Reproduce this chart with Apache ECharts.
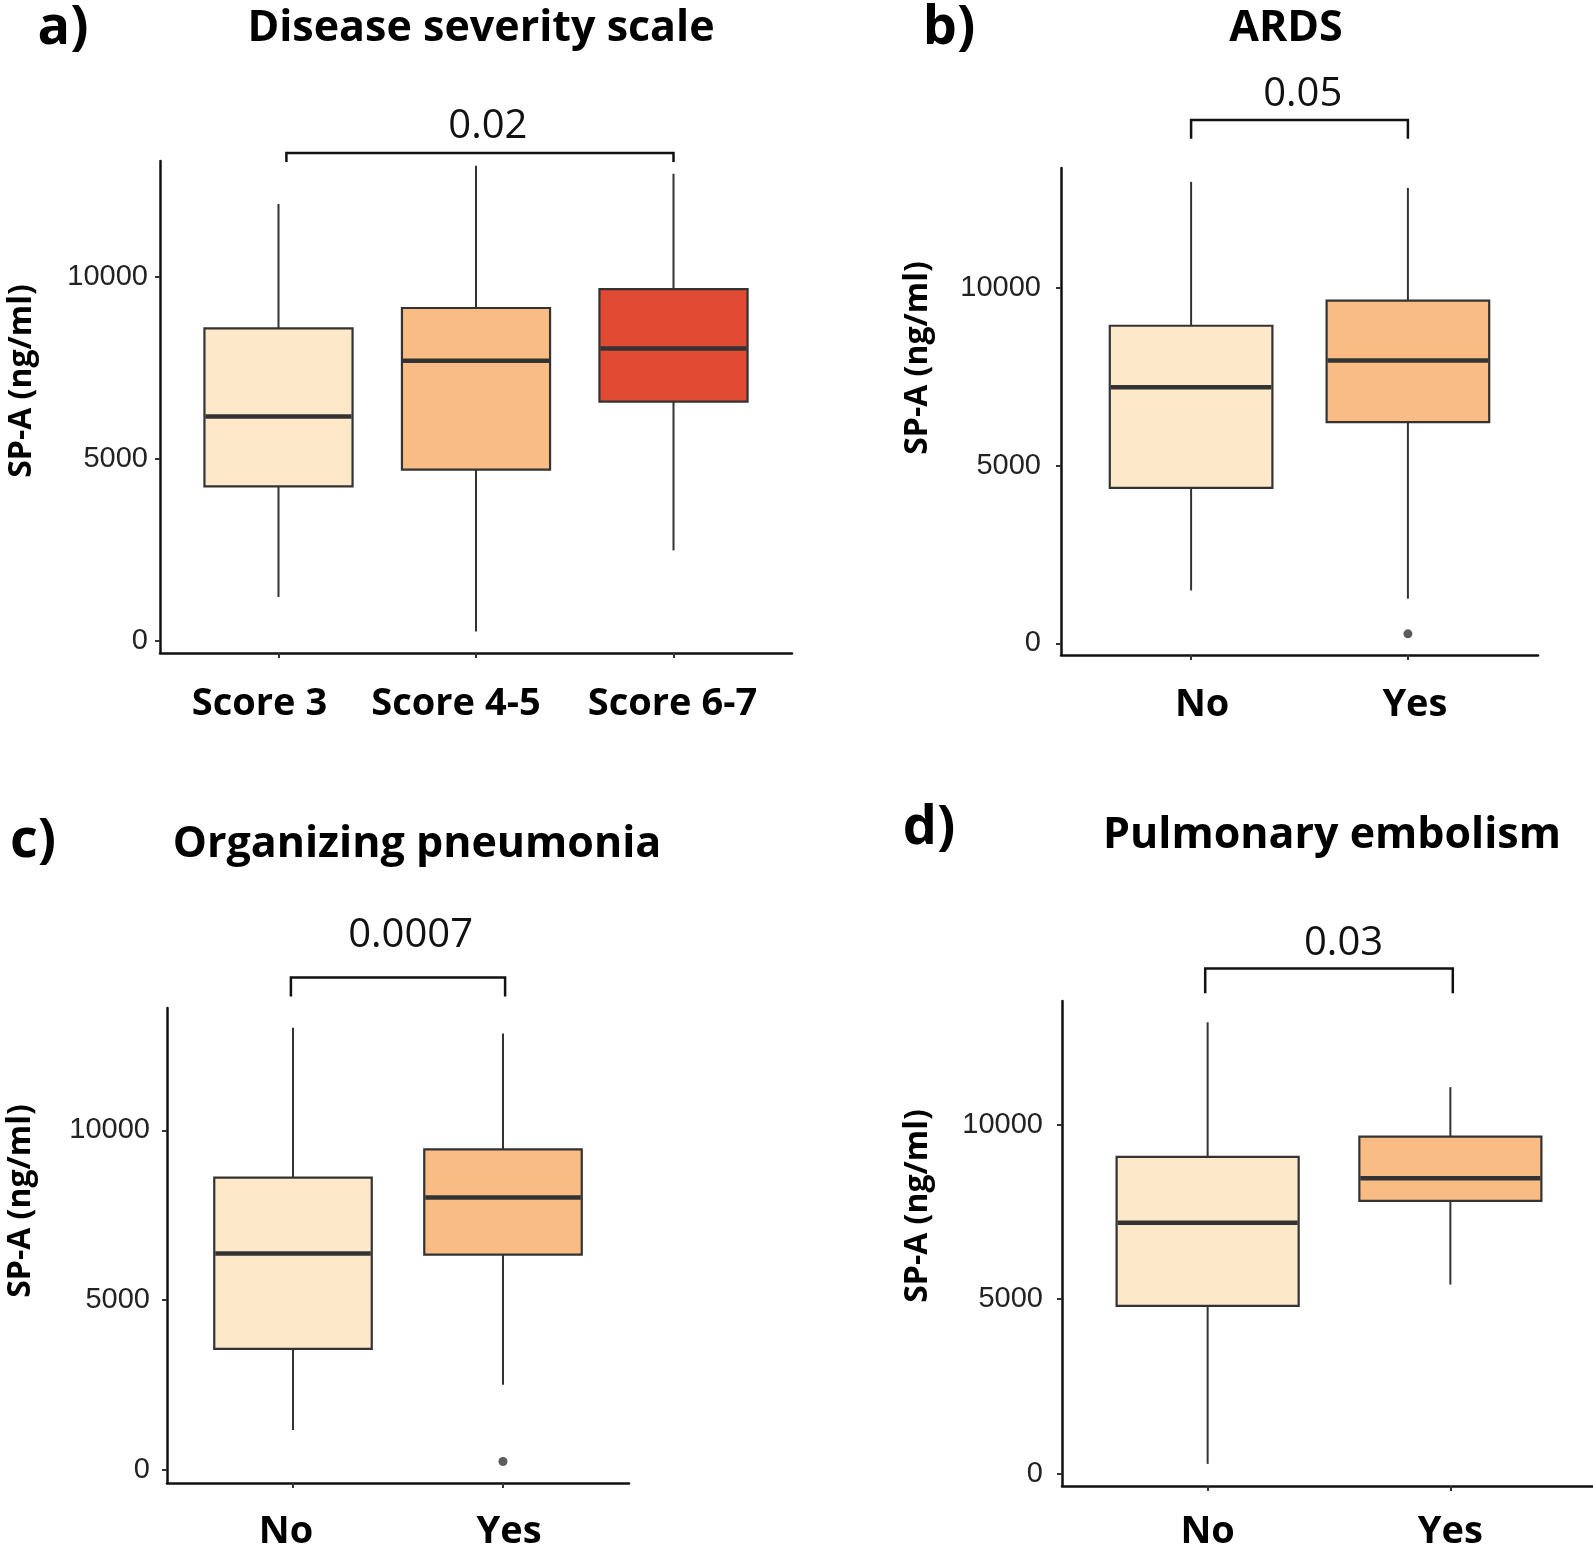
<!DOCTYPE html>
<html><head><meta charset="utf-8">
<script src="https://cdn.jsdelivr.net/npm/echarts@6/dist/echarts.min.js"></script>
<style>html,body{margin:0;padding:0;background:#fff}#c{width:1593px;height:1550px}</style>
</head><body><div id="c"></div>
<script>
// ---------- data ----------
const panelTitles = ['Disease severity scale', 'ARDS', 'Organizing pneumonia', 'Pulmonary embolism'];
const panelTags = ['a)', 'b)', 'c)', 'd)'];
const yAxisTitle = 'SP-A (ng/ml)';
const yTickValues = [0, 5000, 10000];

const catsA = ['Score 3', 'Score 4-5', 'Score 6-7'];
const boxA = [ // [min, Q1, median, Q3, max]
  [1200, 4240, 6160, 8580, 12000],
  [250, 4700, 7690, 9140, 13050],
  [2480, 6570, 8030, 9660, 12830]
];
const outA = [];

const catsB = ['No', 'Yes'];
const boxB = [
  [1490, 4380, 7210, 8940, 12990],
  [1260, 6230, 7960, 9650, 12820]
];
const outB = [[2, 270]];

const catsC = ['No', 'Yes'];
const boxC = [
  [1170, 3560, 6370, 8610, 13030],
  [2500, 6340, 8020, 9440, 12860]
];
const outC = [[2, 240]];

const catsD = ['No', 'Yes'];
const boxD = [
  [280, 4810, 7190, 9080, 12940],
  [5420, 7820, 8470, 9660, 11080]
];
const outD = [];

const pValues = ['0.02', '0.05', '0.0007', '0.03'];
// comparison brackets: [fromCategory, toCategory]
const pairs = [[1, 3], [1, 2], [1, 2], [1, 2]];

// ---------- layout / style ----------
const fills = ['#FDE8C9', '#F9BC85', '#E14B33'];
const layout = [
  {grid: {left: 160, top: 161, width: 632, height: 492}, yMin: -340, yMax: 13180, xm: 31, ym: 12,
   lblShift: [-19, -20, -1],
   br: {dx0: 0.04, dx1: 0, bar: 13400, tick: 13150, tx: 2.06, ty: 14120}},
  {grid: {left: 1061, top: 168, width: 477, height: 487}, yMin: -325, yMax: 13380, xm: 30, ym: 20,
   lblShift: [11, 7],
   br: {dx0: 0, dx1: 0, bar: 14730, tick: 14200, tx: 1.515, ty: 15450}},
  {grid: {left: 167, top: 1008, width: 462, height: 475}, yMin: -395, yMax: 13610, xm: 29, ym: 17,
   lblShift: [-7, 6],
   br: {dx0: -0.01, dx1: 0.01, bar: 14510, tick: 13950, tx: 1.56, ty: 15750}},
  {grid: {left: 1062, top: 1001, width: 534, height: 485}, yMin: -354, yMax: 13550, xm: 26, ym: 19,
   lblShift: [0, 0],
   br: {dx0: -0.01, dx1: 0.01, bar: 14480, tick: 13770, tx: 1.56, ty: 15200}}
];
const titlePos = [[481, 29], [1286, 29], [417, 845], [1332, 836]];
const tagPos = [[63, 29], [949, 29], [33, 842], [929, 829]];
const yTitlePos = [[22, 381], [918, 358], [21, 1201], [918, 1206]];

const cats = [catsA, catsB, catsC, catsD];
const boxes = [boxA, boxB, boxC, boxD];
const outs = [outA, outB, outC, outD];
const HALF = 0.375;

const grids = [], xAxes = [], yAxes = [], series = [];
layout.forEach((L, i) => {
  const n = cats[i].length;
  const idx = cats[i].map((c, k) => k + 1);
  const rich = {};
  L.lblShift.forEach((s, k) => {
    rich['l' + k] = {fontFamily: 'Open Sans', fontWeight: 'bold', fontSize: 38, color: '#000', lineHeight: 40,
      padding: s >= 0 ? [0, 0, 0, 2 * s] : [0, -2 * s, 0, 0]};
  });
  grids.push(Object.assign({containLabel: false, outerBoundsMode: 'none'}, L.grid));
  xAxes.push({
    gridIndex: i, type: 'value', min: 0.4, max: n + 0.6,
    axisLine: {show: true, onZero: false, lineStyle: {color: '#111', width: 2.5}},
    axisTick: {show: true, customValues: idx, length: 5, lineStyle: {color: '#333', width: 2}},
    axisLabel: {customValues: idx, margin: L.xm,
      formatter: v => { const k = Math.round(v) - 1; return cats[i][k] ? '{l' + k + '|' + cats[i][k] + '}' : ''; },
      rich: rich},
    splitLine: {show: false}
  });
  yAxes.push({
    gridIndex: i, type: 'value', min: L.yMin, max: L.yMax,
    axisLine: {show: true, onZero: false, lineStyle: {color: '#111', width: 2.5}},
    axisTick: {show: true, customValues: yTickValues, length: 5, lineStyle: {color: '#333', width: 2}},
    axisLabel: {customValues: yTickValues, formatter: v => String(v), margin: L.ym,
      fontFamily: 'Liberation Sans', fontSize: 29, color: '#222'},
    splitLine: {show: false}
  });
  // boxes: whiskers, box, median
  series.push({
    type: 'custom', xAxisIndex: i, yAxisIndex: i, silent: true,
    data: boxes[i].map((b, k) => [k + 1].concat(b)),
    renderItem: (params, api) => {
      const x = api.value(0);
      const vmin = api.value(1), q1 = api.value(2), med = api.value(3), q3 = api.value(4), vmax = api.value(5);
      const c = (xx, yy) => api.coord([xx, yy]);
      const pMax = c(x, vmax), pQ3 = c(x, q3), pQ1 = c(x, q1), pMin = c(x, vmin);
      const tl = c(x - HALF, q3), br = c(x + HALF, q1);
      const mL = c(x - HALF, med), mR = c(x + HALF, med);
      const wStyle = {stroke: '#333', lineWidth: 2};
      return {type: 'group', children: [
        {type: 'line', shape: {x1: pMax[0], y1: pMax[1], x2: pQ3[0], y2: pQ3[1]}, style: wStyle},
        {type: 'line', shape: {x1: pQ1[0], y1: pQ1[1], x2: pMin[0], y2: pMin[1]}, style: wStyle},
        {type: 'rect', shape: {x: tl[0], y: tl[1], width: br[0] - tl[0], height: br[1] - tl[1]},
          style: {fill: fills[params.dataIndex], stroke: '#333', lineWidth: 2.2}},
        {type: 'line', shape: {x1: mL[0] + 1, y1: mL[1], x2: mR[0] - 1, y2: mR[1]},
          style: {stroke: '#333', lineWidth: 4.5}}
      ]};
    }
  });
  if (outs[i].length) {
    series.push({
      type: 'scatter', xAxisIndex: i, yAxisIndex: i, silent: true,
      symbolSize: 9, itemStyle: {color: '#333'}, data: outs[i]
    });
  }
  // significance bracket + p-value
  const pr = pairs[i];
  series.push({
    type: 'custom', xAxisIndex: i, yAxisIndex: i, silent: true, clip: false,
    data: [[pr[0], L.br.bar]],
    renderItem: (params, api) => {
      const B = L.br;
      const x0 = pr[0] + B.dx0, x1 = pr[1] + B.dx1;
      const pts = [api.coord([x0, B.tick]), api.coord([x0, B.bar]), api.coord([x1, B.bar]), api.coord([x1, B.tick])];
      const t = api.coord([B.tx, B.ty]);
      return {type: 'group', children: [
        {type: 'polyline', shape: {points: pts}, style: {stroke: '#111', lineWidth: 2.5, fill: null}},
        {type: 'text', x: t[0], y: t[1], style: {text: pValues[i], font: '400 40px "Open Sans"', fill: '#111', align: 'center', verticalAlign: 'middle'}}
      ]};
    }
  });
});

const graphics = [];
for (let i = 0; i < 4; i++) {
  graphics.push({type: 'text', x: titlePos[i][0], y: titlePos[i][1], silent: true,
    style: {text: panelTitles[i], font: 'bold 43px "Open Sans"', fill: '#000', align: 'center', verticalAlign: 'middle'}});
  graphics.push({type: 'text', x: tagPos[i][0], y: tagPos[i][1], silent: true,
    style: {text: panelTags[i], font: 'bold 54px "Open Sans"', fill: '#000', align: 'center', verticalAlign: 'middle'}});
  graphics.push({type: 'text', x: yTitlePos[i][0], y: yTitlePos[i][1], rotation: Math.PI / 2, silent: true,
    style: {text: yAxisTitle, font: 'bold 32px "Open Sans"', fill: '#000', align: 'center', verticalAlign: 'middle'}});
}

const chart = echarts.init(document.getElementById('c'), null, {renderer: 'canvas'});
chart.setOption({
  animation: false,
  backgroundColor: '#fff',
  grid: grids, xAxis: xAxes, yAxis: yAxes, series: series,
  graphic: graphics
});
</script>
</body></html>
